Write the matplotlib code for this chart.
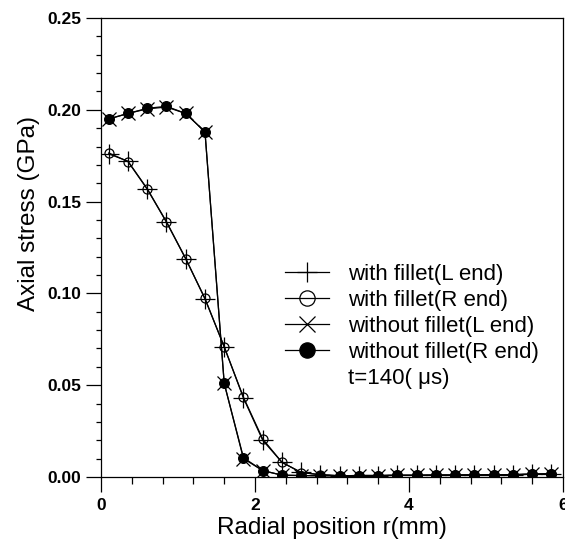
import matplotlib
matplotlib.use("Agg")
import matplotlib.pyplot as plt
from matplotlib.lines import Line2D
from matplotlib.ticker import MultipleLocator

plt.rcParams['font.family'] = ['Liberation Sans', 'DejaVu Sans']

# radial positions (mm)
r = [0.1, 0.35, 0.6, 0.85, 1.1, 1.35, 1.6, 1.85, 2.1, 2.35, 2.6, 2.85,
     3.1, 3.35, 3.6, 3.85, 4.1, 4.35, 4.6, 4.85, 5.1, 5.35, 5.6, 5.85]

# axial stress (GPa)
fillet_L = [0.176, 0.172, 0.157, 0.139, 0.119, 0.097, 0.071, 0.043, 0.020, 0.008, 0.0025, 0.0012,
            0.0007, 0.0008, 0.0008, 0.0009, 0.0009, 0.001, 0.001, 0.0011, 0.0012, 0.0013, 0.0015, 0.0017]
fillet_R = [0.1765, 0.1718, 0.1568, 0.1388, 0.1188, 0.0973, 0.0708, 0.0434, 0.0207, 0.008, 0.0024, 0.0013,
            0.0007, 0.0008, 0.0008, 0.0009, 0.0009, 0.001, 0.001, 0.0011, 0.0012, 0.0013, 0.0015, 0.0017]
nofillet_L = [0.195, 0.198, 0.2005, 0.2015, 0.198, 0.188, 0.051, 0.010, 0.0035, 0.001, 0.0008, 0.0007,
              0.0007, 0.0008, 0.0008, 0.0009, 0.0009, 0.001, 0.001, 0.0011, 0.0012, 0.0013, 0.0015, 0.0017]
nofillet_R = [0.195, 0.198, 0.2008, 0.2019, 0.198, 0.188, 0.051, 0.0105, 0.0035, 0.001, 0.0008, 0.0007,
              0.0007, 0.0008, 0.0008, 0.0009, 0.0009, 0.001, 0.001, 0.0011, 0.0012, 0.0013, 0.0015, 0.0017]

labels = ['with fillet(L end)', 'with fillet(R end)',
          'without fillet(L end)', 'without fillet(R end)']
note = 't=140( \u03bcs)'

fig = plt.figure(figsize=(5.65, 5.42), dpi=100)
ax = fig.add_axes([0.1788, 0.1199, 0.8177, 0.8469])

lw = 0.9
ax.plot(r, fillet_L, color='black', lw=lw, marker='+', ms=14, mew=0.9)
ax.plot(r, fillet_R, color='black', lw=lw, marker='o', ms=6.5, mfc='none', mew=0.9)
ax.plot(r, nofillet_L, color='black', lw=lw, marker='x', ms=9.5, mew=0.9)
ax.plot(r, nofillet_R, color='black', lw=lw, marker='o', ms=7, mfc='black', mew=0.9)

ax.set_xlim(0, 6)
ax.set_ylim(0, 0.25)
ax.xaxis.set_major_locator(MultipleLocator(2))
ax.xaxis.set_minor_locator(MultipleLocator(0.4))
ax.yaxis.set_major_locator(MultipleLocator(0.05))
ax.yaxis.set_minor_locator(MultipleLocator(0.01))
ax.xaxis.set_major_formatter(plt.FuncFormatter(lambda v, p: '%d' % v))
ax.yaxis.set_major_formatter(plt.FuncFormatter(lambda v, p: '%.2f' % v))

ax.tick_params(axis='x', which='major', direction='out', length=11, width=0.9, pad=4,
               labelsize=12.5)
ax.tick_params(axis='x', which='minor', direction='out', length=5, width=0.9)
ax.tick_params(axis='y', which='major', direction='out', length=11, width=0.9, pad=3,
               labelsize=12.5)
ax.tick_params(axis='y', which='minor', direction='out', length=3.5, width=0.9)
for t in ax.get_xticklabels() + ax.get_yticklabels():
    t.set_fontweight('bold')
for s in ax.spines.values():
    s.set_linewidth(0.9)

ax.set_xlabel('Radial position r(mm)', fontsize=17.5, labelpad=3)
ax.set_ylabel('Axial stress (GPa)', fontsize=17.5)
ax.yaxis.set_label_coords(-0.132, 0.573)

# legend with bigger markers
handles = [
    Line2D([], [], color='black', lw=lw, marker='+', ms=15, mew=0.9),
    Line2D([], [], color='black', lw=lw, marker='o', ms=11, mfc='none', mew=0.9),
    Line2D([], [], color='black', lw=lw, marker='x', ms=11, mew=0.9),
    Line2D([], [], color='black', lw=lw, marker='o', ms=11, mfc='black', mew=0.9),
    Line2D([], [], color='none', lw=0),
]
ax.legend(handles, labels + [note], loc='upper left', bbox_to_anchor=(285 / 565, 1 - 264 / 542),
          bbox_transform=fig.transFigure, frameon=False, fontsize=16,
          handlelength=2.0, handletextpad=0.85, labelspacing=0.22, borderpad=0, borderaxespad=0)

fig.savefig('out.png', dpi=100)
